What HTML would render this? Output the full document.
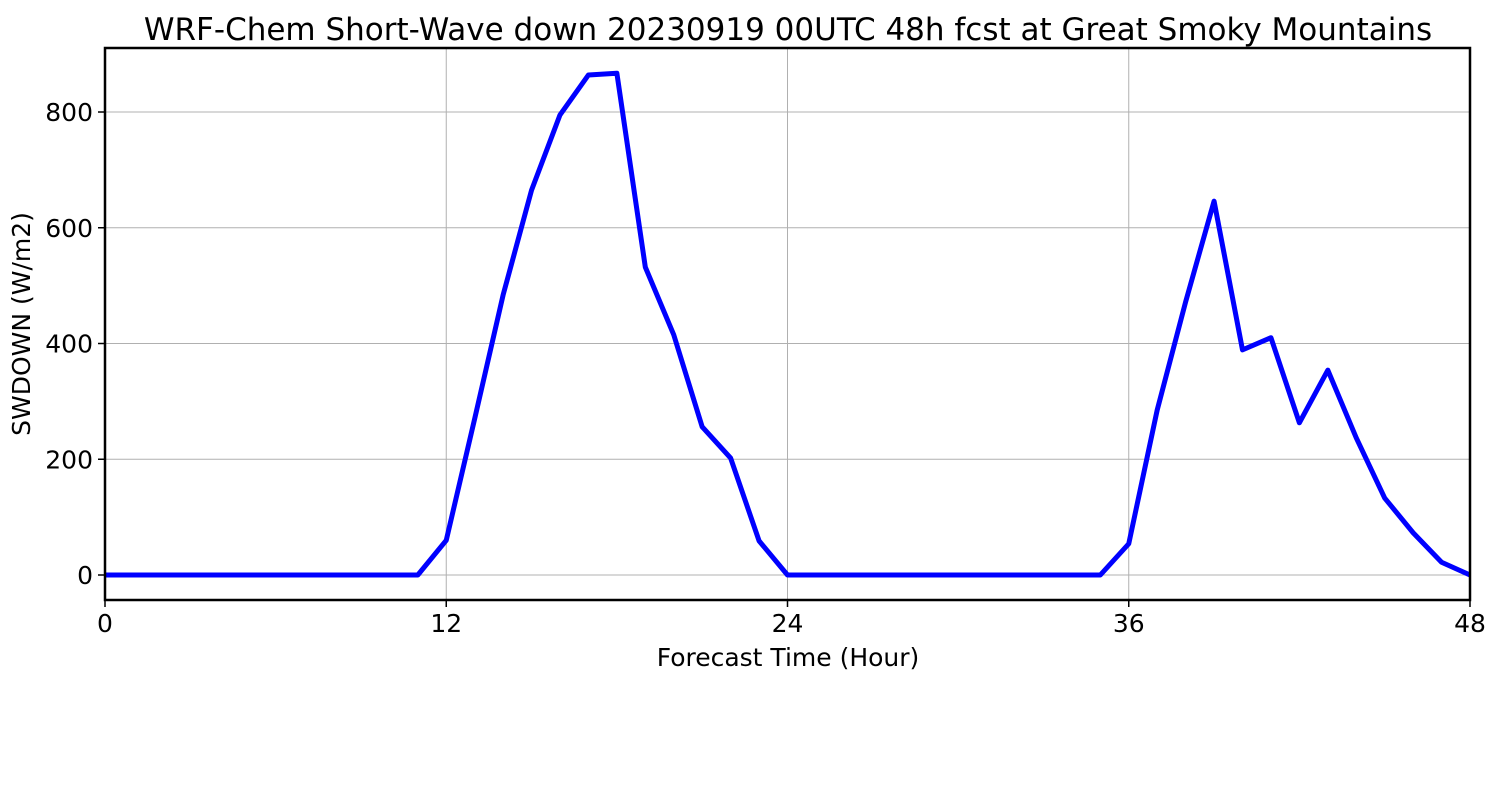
<!DOCTYPE html>
<html><head><meta charset="utf-8"><style>
html,body{margin:0;padding:0;background:#fff;}
svg{display:block;font-family:"DejaVu Sans","Liberation Sans",sans-serif;}
</style></head><body>
<svg id="chart" width="1500" height="800" viewBox="0 0 1500 800" xmlns="http://www.w3.org/2000/svg"></svg>
<script>
const hours = [];
for (let h = 0; h <= 48; h++) hours.push(h);
const swdown = [0,0,0,0,0,0,0,0,0,0,0,0,60,270,484,665,795,864,867,532,415,256,202,59,0,0,0,0,0,0,0,0,0,0,0,0,54,285,472,646,389,410,263,354,237,133,73,22,0];
const xTicks = [0,12,24,36,48];
const yTicks = [0,200,400,600,800];

const L=105,R=1470,T=48,B=600;
const xMin=0,xMax=48,yMin=-43.2,yMax=910.6;
const xs=v=>L+(v-xMin)/(xMax-xMin)*(R-L);
const ys=v=>B-(v-yMin)/(yMax-yMin)*(B-T);
const svg=document.getElementById('chart');
const NS='http://www.w3.org/2000/svg';
function mk(tag,attrs,parent){const e=document.createElementNS(NS,tag);for(const k in attrs)e.setAttribute(k,attrs[k]);(parent||svg).appendChild(e);return e;}

const grid=mk('g',{});


xTicks.forEach(t=>{const l=mk('line',{x1:xs(t),x2:xs(t),y1:T,y2:B,stroke:'#b0b0b0','stroke-width':1},grid);

});
yTicks.forEach(t=>{const l=mk('line',{x1:L,x2:R,y1:ys(t),y2:ys(t),stroke:'#b0b0b0','stroke-width':1},grid);

});

const line=mk('polyline',{points:hours.map((h,i)=>xs(h)+','+ys(swdown[i])).join(' '),fill:'none',stroke:'#0000ff','stroke-width':5,'stroke-linejoin':'round'});



const frame=mk('rect',{x:L,y:T,width:R-L,height:B-T,fill:'none',stroke:'#000','stroke-width':2.5});



xTicks.forEach(t=>{mk('line',{x1:xs(t),x2:xs(t),y1:B,y2:B+7,stroke:'#000','stroke-width':1.5});
const tx=mk('text',{x:xs(t),y:632,'font-size':25,'text-anchor':'middle'});tx.textContent=t;

});
yTicks.forEach(t=>{mk('line',{x1:L-7,x2:L,y1:ys(t),y2:ys(t),stroke:'#000','stroke-width':1.5});
const tx=mk('text',{x:93,y:ys(t)+9,'font-size':25,'text-anchor':'end'});tx.textContent=t;

});

const xt=mk('text',{x:788,y:666,'font-size':25,'text-anchor':'middle'});xt.textContent='Forecast Time (Hour)';


const yt=mk('text',{x:0,y:0,'font-size':25,'text-anchor':'middle',transform:'translate(30,324) rotate(-90)'});yt.textContent='SWDOWN  (W/m2)';
yt.setAttribute('xml:space','preserve');


const tt=mk('text',{x:788,y:40,'font-size':31,'text-anchor':'middle'});tt.textContent='WRF-Chem Short-Wave down  20230919 00UTC 48h fcst at Great Smoky Mountains';
tt.setAttribute('xml:space','preserve');


</script>
</body></html>
